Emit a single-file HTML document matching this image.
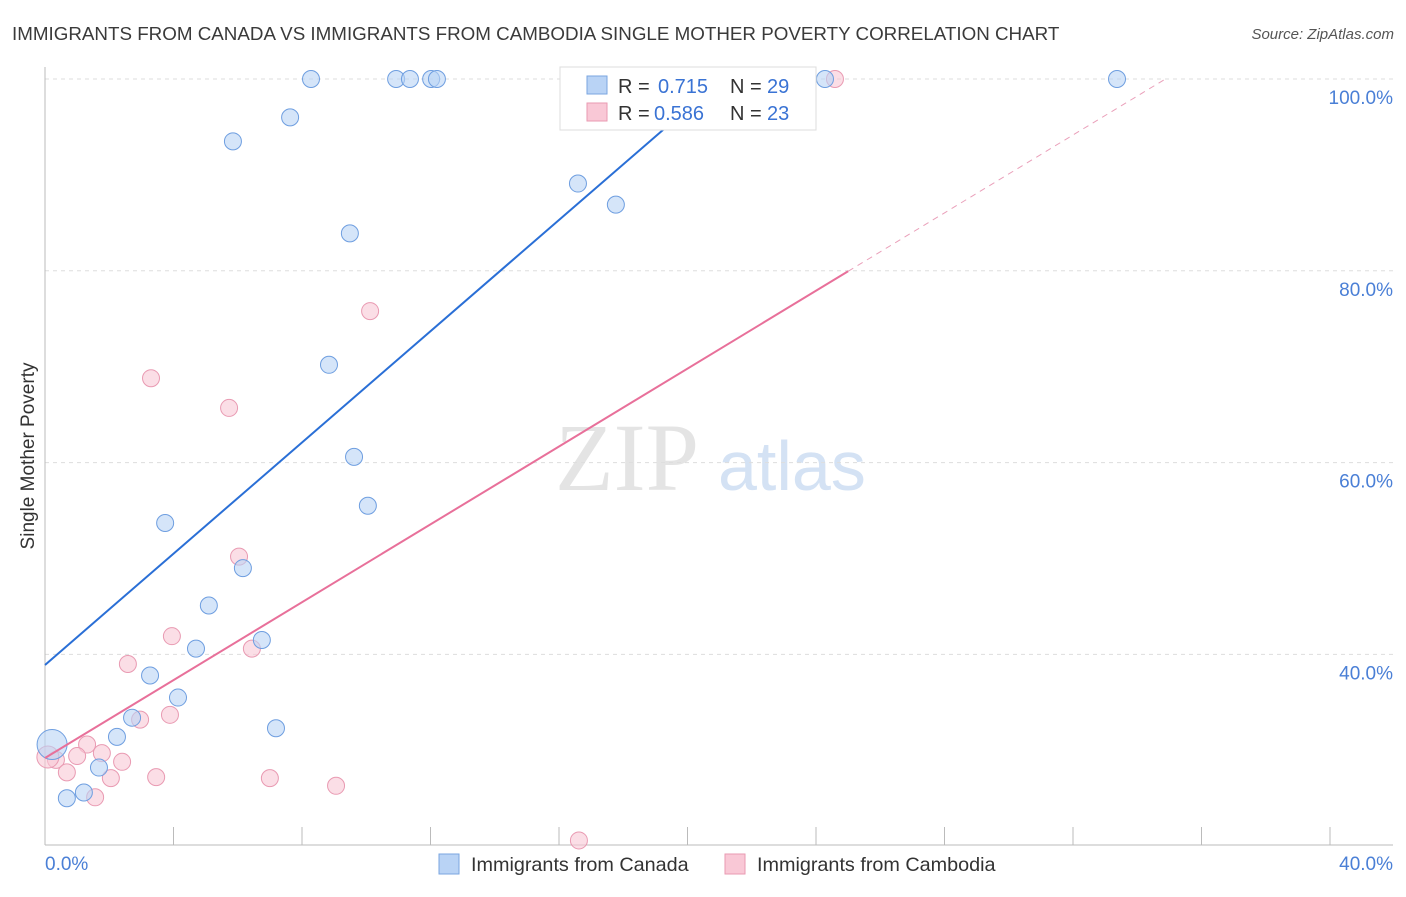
<!DOCTYPE html>
<html><head><meta charset="utf-8"><style>
body{margin:0;background:#fff;font-family:"Liberation Sans",sans-serif;}
</style></head><body>
<svg width="1406" height="892" xmlns="http://www.w3.org/2000/svg">
<text x="12" y="40" font-size="18.8" fill="#3a3a3a">IMMIGRANTS FROM CANADA VS IMMIGRANTS FROM CAMBODIA SINGLE MOTHER POVERTY CORRELATION CHART</text>
<text x="1394" y="39" font-size="15" fill="#555" text-anchor="end" font-style="italic">Source: ZipAtlas.com</text>
<text x="555" y="490" font-size="96" fill="#e4e4e4" font-family="Liberation Serif,serif">ZIP</text>
<text x="718" y="490" font-size="70" fill="#d4e2f4">atlas</text>
<g id="grid"></g>
<g id="marks"></g>
<text transform="translate(34,456) rotate(-90)" font-size="19" fill="#333" text-anchor="middle">Single Mother Poverty</text>
<text x="45" y="870" font-size="19" fill="#4a7fd6">0.0%</text>
<text x="1393" y="870" font-size="19" fill="#4a7fd6" text-anchor="end">40.0%</text>
<g>
<rect x="560" y="67" width="256" height="63" fill="#fff" stroke="#ddd"/>
<rect x="587" y="76" width="20" height="18" fill="#b9d3f5" stroke="#7aa6e0"/>
<rect x="587" y="103" width="20" height="18" fill="#f9c8d6" stroke="#e99ab2"/>
<text x="618" y="93" font-size="20" fill="#333">R =</text>
<text x="658" y="93" font-size="20" fill="#3a73d4">0.715</text>
<text x="730" y="93" font-size="20" fill="#333">N =</text>
<text x="767" y="93" font-size="20" fill="#3a73d4">29</text>
<text x="618" y="120" font-size="20" fill="#333">R =</text>
<text x="654" y="120" font-size="20" fill="#3a73d4">0.586</text>
<text x="730" y="120" font-size="20" fill="#333">N =</text>
<text x="767" y="120" font-size="20" fill="#3a73d4">23</text>
</g>
<g>
<rect x="439" y="854" width="20" height="20" fill="#b9d3f5" stroke="#7aa6e0"/>
<text x="471" y="871" font-size="19.8" fill="#333">Immigrants from Canada</text>
<rect x="725" y="854" width="20" height="20" fill="#f9c8d6" stroke="#e99ab2"/>
<text x="757" y="871" font-size="19.8" fill="#333">Immigrants from Cambodia</text>
</g>
</svg>
<script>
const yTicks=[40,60,80,100];
const yTickLabels=["40.0%","60.0%","80.0%","100.0%"];
const xTicks=[0,4,8,12,16,20,24,28,32,36,40];
const canadaX=[8.28,10.93,11.36,12.02,12.2,24.28,33.37,7.63,5.85,16.59,17.77,9.49,8.84,9.62,10.05,3.74,6.16,5.1,6.75,4.7,3.27,4.14,7.19,2.71,2.24,1.68,1.21,0.68,0.22];
const canadaY=[100,100,100,100,100,100,100,96.0,93.5,89.1,86.9,83.9,70.2,60.6,55.5,53.7,49.0,45.1,41.5,40.6,37.8,35.5,32.3,33.4,31.4,28.2,25.6,25.0,30.6];
const cambX=[24.59,10.12,3.3,5.73,6.04,3.95,6.44,2.58,3.89,2.96,1.31,1.77,1.0,0.34,0.09,2.4,0.68,2.05,3.46,7.0,9.06,1.56,16.62];
const cambY=[100,75.8,68.8,65.7,50.2,41.9,40.6,39.0,33.7,33.2,30.6,29.7,29.4,29.0,29.3,28.8,27.7,27.1,27.2,27.1,26.3,25.1,20.6];
const canadaTrend=[38.9,2.9];
const cambTrend=[29.2,2.03];
const X=v=>45+v*32.125, Y=v=>79+(100-v)*9.59;
const NS="http://www.w3.org/2000/svg";
function mk(t,a,p){const e=document.createElementNS(NS,t);for(const k in a)e.setAttribute(k,a[k]);p.appendChild(e);return e;}
const g=document.getElementById('grid'), m=document.getElementById('marks');
yTicks.forEach((v,i)=>{
 const l=mk('line',{x1:45,x2:1393,y1:Y(v),y2:Y(v),stroke:'#ddd','stroke-dasharray':'4,4'},g);
 
 
 const t=mk('text',{x:1393,y:Y(v)+25,'font-size':19,fill:'#4a7fd6','text-anchor':'end'},g);
 t.textContent=yTickLabels[i];
 
 
});
const ax=mk('line',{x1:45,x2:45,y1:67,y2:845,stroke:'#bbb'},g);


const bx=mk('line',{x1:45,x2:1393,y1:845,y2:845,stroke:'#bbb'},g);


xTicks.forEach(v=>{
 const t=mk('line',{x1:X(v),x2:X(v),y1:827,y2:845,stroke:'#bbb'},g);
 
 
});
function pts(xs,ys,fill,stroke,name){xs.forEach((x,i)=>{
 const r=(x<0.3&&ys[i]>29&&ys[i]<31)?(name=='canada-point'?15:11):8.5;
 const c=mk('circle',{cx:X(x),cy:Y(ys[i]),r:r,fill:fill,'fill-opacity':0.6,stroke:stroke},m);
 
 
});}
pts(cambX,cambY,'#f9c8d6','#e99ab2','cambodia-point');
pts(canadaX,canadaY,'#b9d3f5','#6e9ee0','canada-point');
const bEnd=(100-canadaTrend[0])/canadaTrend[1];
const tl1=mk('line',{x1:X(0),y1:Y(canadaTrend[0]),x2:X(bEnd),y2:Y(100),stroke:'#2a6fd6','stroke-width':2},m);


const pEnd=25, pFull=(100-cambTrend[0])/cambTrend[1];
const tl2=mk('line',{x1:X(0),y1:Y(cambTrend[0]),x2:X(pEnd),y2:Y(cambTrend[0]+cambTrend[1]*pEnd),stroke:'#e8709a','stroke-width':2},m);


const tl3=mk('line',{x1:X(pEnd),y1:Y(cambTrend[0]+cambTrend[1]*pEnd),x2:X(pFull),y2:Y(100),stroke:'#eaa0ba','stroke-width':1,'stroke-dasharray':'6,5'},m);


</script>
</body></html>
